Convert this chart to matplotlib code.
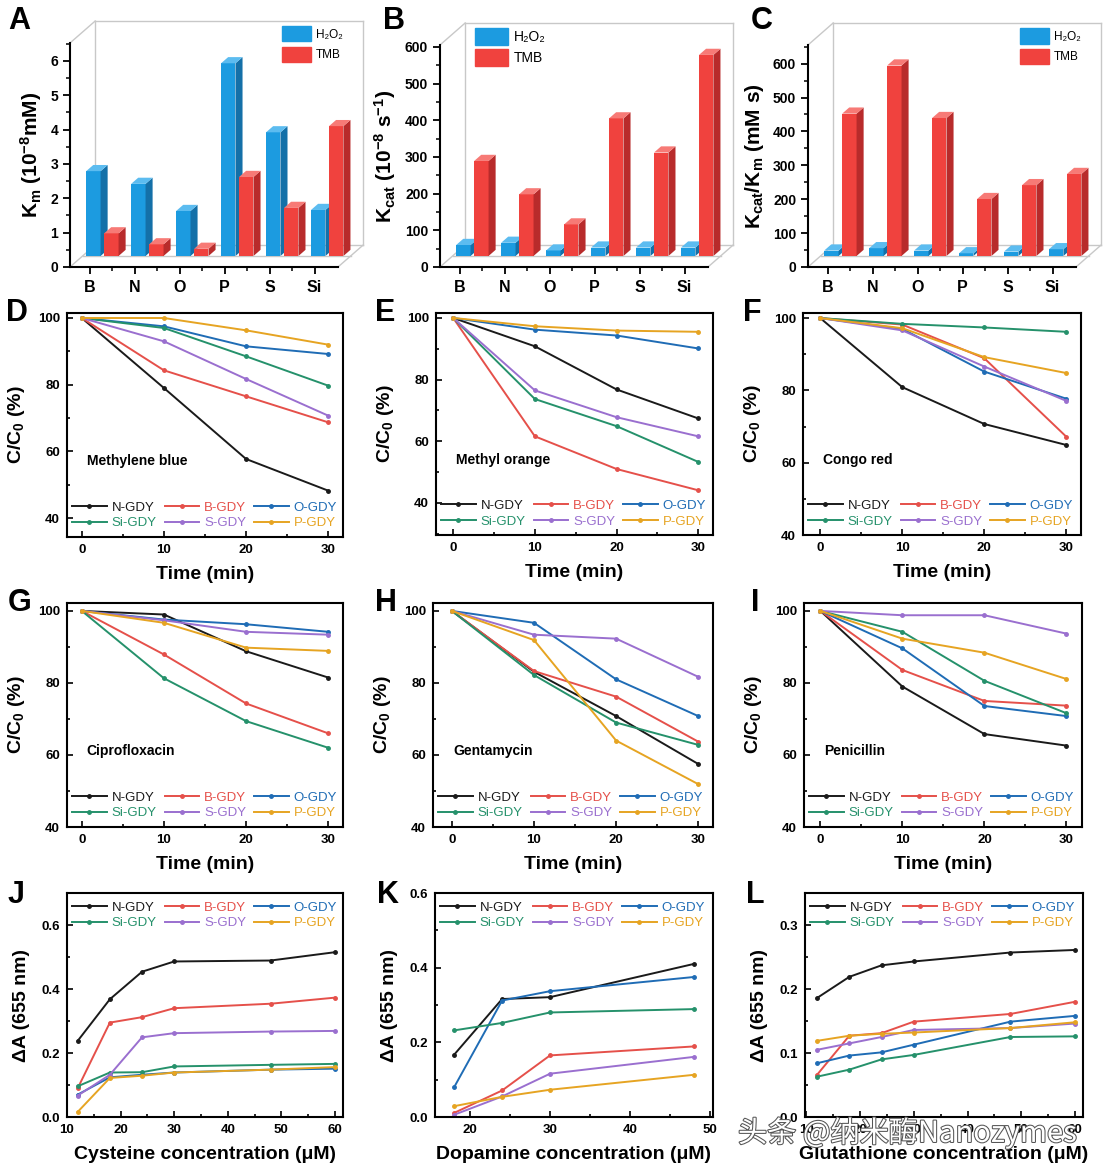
import matplotlib
matplotlib.use('Agg')
import matplotlib.pyplot as plt
from matplotlib.patches import Polygon, Patch
from matplotlib.ticker import MultipleLocator, FormatStrFormatter
import matplotlib.patheffects as pe
import numpy as np

plt.rcParams['font.family'] = ['Liberation Sans', 'DejaVu Sans']
plt.rcParams['font.weight'] = 'bold'
plt.rcParams['axes.labelweight'] = 'bold'
plt.rcParams['mathtext.fontset'] = 'custom'
plt.rcParams['mathtext.rm'] = 'Liberation Sans:bold'
plt.rcParams['mathtext.it'] = 'Liberation Sans:italic:bold'
plt.rcParams['mathtext.bf'] = 'Liberation Sans:bold'
plt.rcParams['mathtext.default'] = 'rm'

# ---- kinetic parameters (A-C) ----
elements = ['B', 'N', 'O', 'P', 'S', 'Si']
km_h2o2 = [2.47, 2.10, 1.31, 5.61, 3.60, 1.34]
km_tmb = [0.66, 0.34, 0.21, 2.30, 1.40, 3.78]
kcat_h2o2 = [30, 36, 15, 23, 23, 23]
kcat_tmb = [259, 168, 86, 375, 282, 548]
eff_h2o2 = [16, 23, 16, 8, 13, 20]
eff_tmb = [420, 562, 407, 168, 209, 242]

# ---- degradation (D-I) ----
series = ['N-GDY', 'B-GDY', 'O-GDY', 'Si-GDY', 'S-GDY', 'P-GDY']
colors = ['#1a1a1a', '#e5504a', '#1f6cb5', '#25916b', '#9a6fcf', '#e6a422']
time_min = [0, 10, 20, 30]
methylene_blue = [[100, 79.0, 57.7, 48.2], [100, 84.3, 76.5, 68.7], [100, 97.5, 91.5, 89.2],
                  [100, 97.0, 88.5, 79.7], [100, 93.0, 81.7, 70.7], [100, 100, 96.3, 92.0]]
methyl_orange = [[100, 90.8, 76.8, 67.4], [100, 61.6, 51.0, 44.1], [100, 96.2, 94.3, 90.1],
                 [100, 73.7, 64.9, 53.3], [100, 76.5, 67.8, 61.6], [100, 97.3, 95.9, 95.5]]
congo_red = [[100, 80.9, 70.7, 64.9], [100, 98.2, 88.9, 67.2], [100, 97.0, 85.2, 77.7],
             [100, 98.4, 97.4, 96.2], [100, 96.6, 86.6, 77.1], [100, 97.2, 89.2, 84.8]]
ciprofloxacin = [[100, 99.0, 88.8, 81.5], [100, 87.9, 74.3, 66.0], [100, 97.6, 96.3, 94.2],
                 [100, 81.3, 69.4, 62.0], [100, 97.4, 94.2, 93.4], [100, 96.7, 89.8, 88.9]]
gentamycin = [[100, 83.1, 70.8, 57.5], [100, 83.3, 76.2, 63.7], [100, 96.7, 81.0, 70.8],
              [100, 82.2, 69.0, 62.8], [100, 93.4, 92.3, 81.7], [100, 91.9, 64.0, 51.9]]
penicillin = [[100, 79.0, 65.8, 62.6], [100, 83.6, 75.0, 73.7], [100, 89.6, 73.6, 70.8],
              [100, 94.2, 80.6, 71.6], [100, 98.8, 98.8, 93.7], [100, 92.3, 88.4, 81.1]]

# ---- detection (J-L) ----
conc_cys = [12, 18, 24, 30, 48, 60]
cysteine = [[0.238, 0.368, 0.454, 0.486, 0.489, 0.515], [0.090, 0.295, 0.312, 0.340, 0.354, 0.373],
            [0.070, 0.124, 0.132, 0.139, 0.148, 0.151], [0.096, 0.139, 0.140, 0.158, 0.163, 0.166],
            [0.067, 0.132, 0.249, 0.262, 0.267, 0.269], [0.016, 0.122, 0.129, 0.139, 0.148, 0.156]]
conc_dopa = [18, 24, 30, 48]
dopamine = [[0.167, 0.316, 0.321, 0.410], [0.011, 0.071, 0.165, 0.189],
            [0.080, 0.312, 0.337, 0.375], [0.232, 0.252, 0.280, 0.289],
            [0.006, 0.055, 0.116, 0.161], [0.029, 0.054, 0.073, 0.113]]
conc_gsh = [12, 18, 24, 30, 48, 60]
glutathione = [[0.186, 0.219, 0.237, 0.243, 0.257, 0.261], [0.066, 0.127, 0.131, 0.149, 0.161, 0.180],
               [0.084, 0.096, 0.101, 0.113, 0.149, 0.158], [0.063, 0.074, 0.090, 0.097, 0.125, 0.126],
               [0.105, 0.115, 0.125, 0.136, 0.139, 0.146], [0.119, 0.127, 0.130, 0.132, 0.139, 0.148]]

W, H = 1108, 1174
fig = plt.figure(figsize=(W / 100, H / 100), dpi=100)


def box(l, r, t, b):
    return fig.add_axes([l / W, 1 - b / H, (r - l) / W, (b - t) / H])


def bar3d(ax, xc, h, w, base, ddx, ddy, face, side, top, z):
    ax.bar(xc, h, w, bottom=base, color=face, zorder=z, linewidth=0, clip_on=False)
    xl, xr, yt = xc - w / 2, xc + w / 2, base + h
    ax.add_patch(Polygon([(xr, base), (xr + ddx, base + ddy), (xr + ddx, yt + ddy), (xr, yt)],
                         closed=True, color=side, zorder=z, lw=0, clip_on=False))
    ax.add_patch(Polygon([(xl, yt), (xl + ddx, yt + ddy), (xr + ddx, yt + ddy), (xr, yt)],
                         closed=True, color=top, zorder=z, lw=0, clip_on=False))


def bar_panel(ax, h2o2, tmb, ymax, depth_y, ylabel, major, leg_anchor, leg_fs, leg_hl, leg_hh, leg_sp):
    x = np.arange(len(elements))
    dx = 0.56
    x0, x1 = -0.44, 5.52
    ax.set_xlim(x0, x1)
    ax.set_ylim(0, ymax)
    base = depth_y / 2
    ytop = ymax + depth_y
    g = '#c8c8c8'
    # pseudo 3d frame
    for xs, ys in [([x0 + dx, x1 + dx], [ytop, ytop]), ([x0 + dx, x0 + dx], [depth_y, ytop]),
                   ([x1 + dx, x1 + dx], [depth_y, ytop]), ([x0 + dx, x1 + dx], [depth_y, depth_y]),
                   ([x0, x0 + dx], [ymax, ytop]), ([x0, x0 + dx], [0, depth_y]),
                   ([x1, x1 + dx], [0, depth_y]), ([x0 + dx / 2, x1 + dx / 2], [base, base])]:
        ax.plot(xs, ys, color=g, lw=1, clip_on=False, zorder=0.5)
    for i in range(len(x)):
        bar3d(ax, x[i] + dx / 2 - 0.2, h2o2[i], 0.32, base, 0.157, depth_y * 0.28,
              '#1c9be0', '#1470a8', '#5cbcf0', 2 + i)
        bar3d(ax, x[i] + dx / 2 + 0.2, tmb[i], 0.32, base, 0.157, depth_y * 0.28,
              '#f0423e', '#b82b2b', '#f77a76', 2.5 + i)
    ax.spines['top'].set_visible(False)
    ax.spines['right'].set_visible(False)
    for s in ['left', 'bottom']:
        ax.spines[s].set_linewidth(1.5)
    ax.set_xticks(x, elements)
    ax.set_xticks(x[:-1] + 0.5, minor=True)
    ax.yaxis.set_major_locator(MultipleLocator(major))
    ax.yaxis.set_minor_locator(MultipleLocator(major / 2))
    ax.tick_params(axis='x', which='major', labelsize=11.5, length=5, width=1.3, pad=4)
    ax.tick_params(axis='y', which='major', labelsize=10, length=5, width=1.3)
    ax.tick_params(which='minor', length=3, width=1.1)
    ax.set_ylabel(ylabel, fontsize=15, labelpad=5)
    handles = [Patch(color='#1c9be0'), Patch(color='#f0423e')]
    ax.legend(handles, ['H₂O₂', 'TMB'], loc='upper left', bbox_to_anchor=leg_anchor,
              frameon=False, prop={'weight': 'normal', 'size': leg_fs},
              handlelength=leg_hl, handleheight=leg_hh, handletextpad=0.4,
              labelspacing=leg_sp, borderaxespad=0, borderpad=0)


def line_panel(ax, x, data, xlim, ylim, xmaj, ymaj, xlabel, ylabel, yfmt, leg_loc, note=None):
    for vals, name, c in zip(data, series, colors):
        ax.plot(x, vals, '-o', color=c, lw=1.4, ms=2.5, label=name)
    ax.set_xlim(*xlim)
    ax.set_ylim(*ylim)
    ax.xaxis.set_major_locator(MultipleLocator(xmaj))
    ax.xaxis.set_minor_locator(MultipleLocator(xmaj / 2))
    ax.yaxis.set_major_locator(MultipleLocator(ymaj))
    ax.yaxis.set_minor_locator(MultipleLocator(ymaj / 2))
    if yfmt:
        ax.yaxis.set_major_formatter(FormatStrFormatter(yfmt))
    for s in ax.spines.values():
        s.set_linewidth(1.5)
    ax.tick_params(which='both', direction='in', width=1.2)
    ax.tick_params(which='major', length=4, labelsize=9.5, pad=5)
    ax.tick_params(which='minor', length=2)
    ax.set_xlabel(xlabel, fontsize=14, labelpad=7)
    ax.set_ylabel(ylabel, fontsize=14, labelpad=8)
    h, l = ax.get_legend_handles_labels()
    order = [0, 3, 1, 4, 2, 5]
    if leg_loc == 'lower':
        kw = dict(loc='lower left', bbox_to_anchor=(0.0, 0.01))
    else:
        kw = dict(loc='upper left', bbox_to_anchor=(0.0, 0.985))
    ax.legend([h[i] for i in order], [l[i] for i in order], ncol=3, frameon=False,
              prop={'weight': 'normal', 'size': 9.5}, labelcolor='linecolor',
              handlelength=2.6, handletextpad=0.4, columnspacing=0.6,
              labelspacing=0.25, borderaxespad=0.2, borderpad=0.2, **kw)
    if note:
        ax.text(0.072, 0.34, note, transform=ax.transAxes, fontsize=10, va='center', ha='left')


# top row: kinetics
axA = box(70, 338, 43, 267)
bar_panel(axA, km_h2o2, km_tmb, 6.52, 0.64, 'K$_{m}$ (10$^{-8}$mM)', 1, (0.79, 1.075), 8.5, 2.5, 1.6, 0.45)
axB = box(440, 708, 45, 267)
bar_panel(axB, kcat_h2o2, kcat_tmb, 605, 60, 'K$_{cat}$ (10$^{-8}$ s$^{-1}$)', 100, (0.13, 1.075), 10, 2.4, 1.45, 0.3)
axC = box(808, 1076, 45, 267)
bar_panel(axC, eff_h2o2, eff_tmb, 655, 65, 'K$_{cat}$/K$_{m}$ (mM s)', 100, (0.79, 1.075), 8.5, 2.5, 1.6, 0.45)

# middle rows: degradation
t_lab = 'Time (min)'
c_lab = 'C/C$_0$ (%)'
axD = box(67, 343, 313, 537)
line_panel(axD, time_min, methylene_blue, (-1.8, 31.8), (34.3, 101.5), 10, 20, t_lab, c_lab, None, 'lower', 'Methylene blue')
axE = box(436, 713, 313, 535)
line_panel(axE, time_min, methyl_orange, (-2.1, 31.8), (29.6, 101.6), 10, 20, t_lab, c_lab, None, 'lower', 'Methyl orange')
axF = box(803, 1081, 313, 535)
line_panel(axF, time_min, congo_red, (-2.1, 31.8), (40, 101.4), 10, 20, t_lab, c_lab, None, 'lower', 'Congo red')
axG = box(67, 343, 603, 827)
line_panel(axG, time_min, ciprofloxacin, (-1.8, 31.8), (40, 102.2), 10, 20, t_lab, c_lab, None, 'lower', 'Ciprofloxacin')
axH = box(433, 713, 603, 827)
line_panel(axH, time_min, gentamycin, (-2.3, 31.8), (40, 102.2), 10, 20, t_lab, c_lab, None, 'lower', 'Gentamycin')
axI = box(804, 1082, 603, 827)
line_panel(axI, time_min, penicillin, (-2.0, 31.9), (40, 102.2), 10, 20, t_lab, c_lab, None, 'lower', 'Penicillin')

# bottom row: detection
a_lab = 'ΔA (655 nm)'
axJ = box(67, 343, 893, 1117)
line_panel(axJ, conc_cys, cysteine, (10, 61.5), (0, 0.7), 10, 0.2, 'Cysteine concentration (μM)', a_lab, '%.1f', 'upper')
axK = box(435, 713, 893, 1117)
line_panel(axK, conc_dopa, dopamine, (15.6, 50.4), (0, 0.6), 10, 0.2, 'Dopamine concentration (μM)', a_lab, '%.1f', 'upper')
axL = box(805, 1083, 893, 1117)
line_panel(axL, conc_gsh, glutathione, (9.75, 61.5), (0, 0.35), 10, 0.1, 'Glutathione concentration (μM)', a_lab, '%.1f', 'upper')

letters = [('A', 8, 6), ('B', 383, 6), ('C', 751, 6), ('D', 6, 298), ('E', 375, 298), ('F', 743, 298),
           ('G', 8, 588), ('H', 375, 588), ('I', 751, 588), ('J', 8, 880), ('K', 377, 880), ('L', 746, 880)]
for s, lx, ly in letters:
    fig.text(lx / W, 1 - ly / H, s, fontsize=22, fontweight='bold', va='top', ha='left')

# watermark of the source image, lying over panel L's axis text
fig.text(738 / W, 1 - 1133 / H, '头条 @纳米酶Nanozymes', family=['Noto Sans CJK SC', 'DejaVu Sans'],
         fontsize=21, fontweight='normal', color='white', va='center', ha='left', zorder=20,
         path_effects=[pe.withStroke(linewidth=1.5, foreground='#555555')])

fig.savefig('out.png', dpi=100, facecolor='white')
